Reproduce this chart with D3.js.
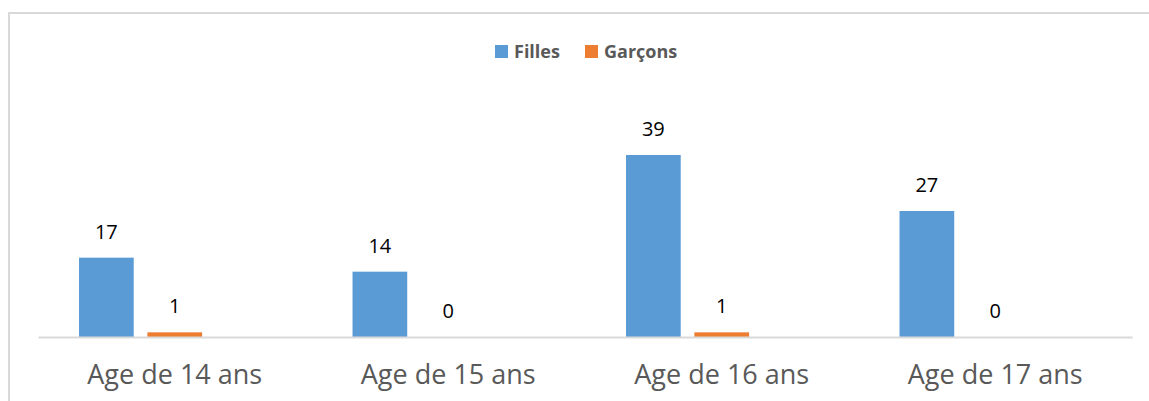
<!DOCTYPE html>
<html>
<head>
<meta charset="utf-8">
<script src="https://cdn.jsdelivr.net/npm/d3@7.9.0/dist/d3.min.js"></script>
<style>
  html, body { margin: 0; padding: 0; background: #fff; }
  svg { display: block; font-family: 'Open Sans', sans-serif; }
</style>
</head>
<body>
<svg id="chart" width="1149" height="401"></svg>
<script>
const categories = ['Age de 14 ans', 'Age de 15 ans', 'Age de 16 ans', 'Age de 17 ans'];
const seriesNames = ['Filles', 'Garçons'];
const filles = [17, 14, 39, 27];
const garcons = [1, 0, 1, 0];

const seriesValues = [filles, garcons];
const colors = d3.scaleOrdinal(seriesNames, ['#5B9BD5', '#ED7D31']);

const svg = d3.select('#chart');

// chart frame (only top and left edges are visible)
svg.append('rect')
  .attr('x', 9).attr('y', 13)
  .attr('width', 1200).attr('height', 450)
  .attr('fill', 'none')
  .attr('stroke', '#D9D9D9')
  .attr('stroke-width', 2);

const x0 = d3.scaleBand().domain(categories).range([38, 1132]).paddingInner(0.3).paddingOuter(0.15);
// three slots per group: the original chart leaves an empty third slot
const x1 = d3.scaleBand().domain([0, 1, 2]).range([0, x0.bandwidth()]).paddingInner(0.2);
const y = d3.scaleLinear().domain([0, 45]).range([337, 127]);

const rows = categories.flatMap((c, i) =>
  seriesNames.map((s, j) => ({ cat: c, series: s, idx: j, value: seriesValues[j][i] })));

svg.append('g')
  .selectAll('rect')
  .data(rows)
  .join('rect')
  .attr('x', (d) => x0(d.cat) + x1(d.idx))
  .attr('y', (d) => y(d.value))
  .attr('width', x1.bandwidth())
  .attr('height', (d) => y(0) - y(d.value))
  .attr('fill', (d) => colors(d.series));

svg.append('g')
  .selectAll('text')
  .data(rows)
  .join('text')
  .attr('x', (d) => x0(d.cat) + x1(d.idx) + x1.bandwidth() / 2)
  .attr('y', (d) => y(d.value) - 19)
  .attr('text-anchor', 'middle')
  .attr('font-size', 20)
  .attr('fill', '#000')
  .text((d) => d.value);

// category axis
const xAxis = svg.append('g')
  .attr('transform', `translate(0,${y(0)})`)
  .call(d3.axisBottom(x0).tickSize(0).tickPadding(28));
xAxis.select('.domain').attr('stroke', '#D9D9D9').attr('stroke-width', 2);
xAxis.selectAll('text')
  .attr('font-family', "'Open Sans', sans-serif")
  .attr('font-size', 27)
  .attr('fill', '#595959');

// legend
const legendPos = [495, 585];
const legend = svg.append('g')
  .selectAll('g')
  .data(seriesNames)
  .join('g')
  .attr('transform', (d, i) => `translate(${legendPos[i]},45)`);
legend.append('rect')
  .attr('width', 13).attr('height', 13)
  .attr('fill', (d) => colors(d));
legend.append('text')
  .attr('x', 19).attr('y', 13)
  .attr('font-size', 18)
  .attr('font-weight', 'bold')
  .attr('fill', '#595959')
  .text((d) => d);
</script>
</body>
</html>
